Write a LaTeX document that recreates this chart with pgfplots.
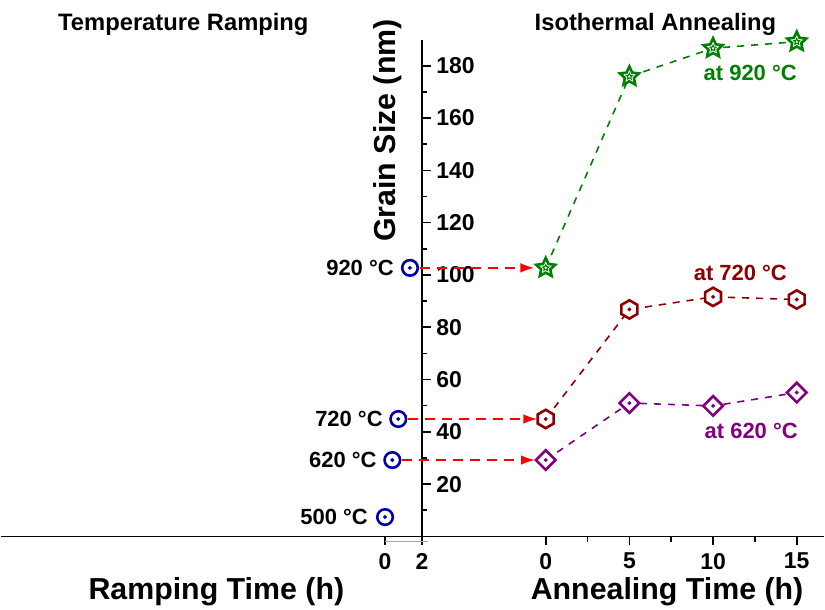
\documentclass[border=0pt]{standalone}
\usepackage{fontspec}
\setmainfont{Liberation Sans}
\usepackage{pgfplots}
\pgfplotsset{compat=1.18}
\usetikzlibrary{arrows.meta}
\definecolor{cblue}{RGB}{0,0,170}
\definecolor{cgreen}{RGB}{0,128,0}
\definecolor{cdred}{RGB}{139,0,0}
\definecolor{cpurple}{RGB}{128,0,128}
\definecolor{cred}{RGB}{255,0,0}

\pgfdeclareplotmark{codot}{%
  \pgfpathcircle{\pgfpointorigin}{\pgfplotmarksize}%
  \pgfusepathqfillstroke
  \pgfpathcircle{\pgfpointorigin}{0.15pt}%
  \pgfusepathqstroke
}
\pgfdeclareplotmark{ostar}{%
  \pgfpathmoveto{\pgfqpointpolar{90}{\pgfplotmarksize}}%
  \pgfpathlineto{\pgfqpointpolar{126}{0.48\pgfplotmarksize}}%
  \pgfpathlineto{\pgfqpointpolar{162}{\pgfplotmarksize}}%
  \pgfpathlineto{\pgfqpointpolar{198}{0.48\pgfplotmarksize}}%
  \pgfpathlineto{\pgfqpointpolar{234}{\pgfplotmarksize}}%
  \pgfpathlineto{\pgfqpointpolar{270}{0.48\pgfplotmarksize}}%
  \pgfpathlineto{\pgfqpointpolar{306}{\pgfplotmarksize}}%
  \pgfpathlineto{\pgfqpointpolar{342}{0.48\pgfplotmarksize}}%
  \pgfpathlineto{\pgfqpointpolar{18}{\pgfplotmarksize}}%
  \pgfpathlineto{\pgfqpointpolar{54}{0.48\pgfplotmarksize}}%
  \pgfpathclose
  \pgfusepathqfillstroke
  \pgfscope
  \pgfsetlinewidth{0.5pt}%
  \pgfpathmoveto{\pgfqpointpolar{90}{0.32\pgfplotmarksize}}%
  \pgfpathlineto{\pgfqpointpolar{126}{0.15\pgfplotmarksize}}%
  \pgfpathlineto{\pgfqpointpolar{162}{0.32\pgfplotmarksize}}%
  \pgfpathlineto{\pgfqpointpolar{198}{0.15\pgfplotmarksize}}%
  \pgfpathlineto{\pgfqpointpolar{234}{0.32\pgfplotmarksize}}%
  \pgfpathlineto{\pgfqpointpolar{270}{0.15\pgfplotmarksize}}%
  \pgfpathlineto{\pgfqpointpolar{306}{0.32\pgfplotmarksize}}%
  \pgfpathlineto{\pgfqpointpolar{342}{0.15\pgfplotmarksize}}%
  \pgfpathlineto{\pgfqpointpolar{18}{0.32\pgfplotmarksize}}%
  \pgfpathlineto{\pgfqpointpolar{54}{0.15\pgfplotmarksize}}%
  \pgfpathclose
  \pgfusepathqstroke
  \endpgfscope
}
\pgfdeclareplotmark{ohex}{%
  \pgfpathmoveto{\pgfqpointpolar{90}{\pgfplotmarksize}}%
  \pgfpathlineto{\pgfqpointpolar{150}{\pgfplotmarksize}}%
  \pgfpathlineto{\pgfqpointpolar{210}{\pgfplotmarksize}}%
  \pgfpathlineto{\pgfqpointpolar{270}{\pgfplotmarksize}}%
  \pgfpathlineto{\pgfqpointpolar{330}{\pgfplotmarksize}}%
  \pgfpathlineto{\pgfqpointpolar{30}{\pgfplotmarksize}}%
  \pgfpathclose
  \pgfusepathqfillstroke
  \pgfpathcircle{\pgfpointorigin}{0.15pt}%
  \pgfusepathqstroke
}
\pgfdeclareplotmark{odiam}{%
  \pgfpathmoveto{\pgfqpoint{0pt}{\pgfplotmarksize}}%
  \pgfpathlineto{\pgfqpoint{-\pgfplotmarksize}{0pt}}%
  \pgfpathlineto{\pgfqpoint{0pt}{-\pgfplotmarksize}}%
  \pgfpathlineto{\pgfqpoint{\pgfplotmarksize}{0pt}}%
  \pgfpathclose
  \pgfusepathqfillstroke
  \pgfpathcircle{\pgfpointorigin}{0.15pt}%
  \pgfusepathqstroke
}

\newcommand\tickfont{\fontsize{11.5}{13}\selectfont\bfseries}
\newcommand\annfont{\fontsize{11}{13}\selectfont\bfseries}
\newcommand\labfont{\fontsize{15.2}{18}\selectfont\bfseries}
\newcommand\titfont{\fontsize{11.9}{14}\selectfont\bfseries}

\begin{document}
\begin{tikzpicture}
\begin{axis}[
  x=8.385pt, y=1.31pt,
  xmin=-7.394, xmax=16.64, ymin=0, ymax=190,
  axis x line=bottom, axis y line=left,
  axis line style={-, line width=0.8pt, black},
  xtick={0,5,10,15}, minor xtick={2.5,7.5,12.5},
  ytick={20,40,...,180}, minor ytick={10,30,...,170},
  xtick align=outside, ytick align=inside,
  major tick length=4.5pt, minor tick length=2.6pt,
  tick style={black, line width=0.8pt},
  tick label style={font=\tickfont},
  /pgf/number format/assume math mode=true,
  yticklabel style={anchor=west, xshift=3.7pt},
  xticklabel style={anchor=north, yshift=-0.3pt},
  clip=false,
]
% invisible bounding box (825 x 611 px)
\path (axis cs:-32.56,205.15) rectangle (axis cs:16.64,-28.05);

% extension of the x axis line to the left and the ramping axis
\draw[line width=0.8pt, black] (axis cs:-32.56,0) -- (axis cs:-7.394,0);
\draw[line width=0.8pt, black] (axis cs:-9.60,0) -- (axis cs:-9.60,-3.4);
\draw[line width=0.8pt, black] (axis cs:-7.394,0) -- (axis cs:-7.394,-3.4);
\draw[line width=0.8pt, gray!70] (axis cs:-9.60,-2) -- (axis cs:-7.04,-2);
\node[font=\tickfont, anchor=north, yshift=-4.8pt] at (axis cs:-9.60,0) {0};
\node[font=\tickfont, anchor=north, yshift=-4.8pt] at (axis cs:-7.394,0) {2};

% isothermal annealing series
\addplot[cgreen, line width=0.8pt, dash pattern=on 3.5pt off 3.5pt,
  mark=ostar, mark size=5pt, mark options={solid, fill=white, line width=1.3pt}]
  coordinates {(0,102.7) (5,175.9) (10,186.7) (15,189.2)};
\addplot[cdred, line width=0.8pt, dash pattern=on 3.5pt off 3.5pt,
  mark=ohex, mark size=4.6pt, mark options={solid, fill=white, line width=1.3pt}]
  coordinates {(0,44.9) (5,86.8) (10,91.6) (15,90.6)};
\addplot[cpurple, line width=0.8pt, dash pattern=on 3.5pt off 3.5pt,
  mark=odiam, mark size=4.9pt, mark options={solid, fill=white, line width=1.3pt}]
  coordinates {(0,29.2) (5,51.0) (10,49.9) (15,55.0)};

% arrows from ramping end to start of annealing
\addplot[cred, line width=0.9pt, dash pattern=on 5pt off 3.5pt, mark=none,
  -{Latex[length=7pt,width=4.8pt]}] coordinates {(-7.51,102.7) (-0.68,102.7)};
\addplot[cred, line width=0.9pt, dash pattern=on 5pt off 3.5pt, mark=none,
  -{Latex[length=7pt,width=4.8pt]}] coordinates {(-8.24,44.9) (-0.5,44.9)};
\addplot[cred, line width=0.9pt, dash pattern=on 5pt off 3.5pt, mark=none,
  -{Latex[length=7pt,width=4.8pt]}] coordinates {(-8.59,29.2) (-0.64,29.2)};

% temperature ramping points
\addplot[only marks, cblue, mark=codot, mark size=3.9pt,
  mark options={fill=white, line width=1.3pt}]
  coordinates {(-9.60,7.4) (-9.165,29.2) (-8.807,44.9) (-8.11,102.7)};

% annotations
\node[font=\annfont, anchor=east, inner sep=0pt] at (axis cs:-9.06,102.7) {920 °C};
\node[font=\annfont, anchor=east, inner sep=0pt] at (axis cs:-9.72,45.0) {720 °C};
\node[font=\annfont, anchor=east, inner sep=0pt] at (axis cs:-10.08,29.2) {620 °C};
\node[font=\annfont, anchor=east, inner sep=0pt] at (axis cs:-10.61,7.4) {500 °C};
\node[font=\annfont, text=cgreen, inner sep=0pt] at (axis cs:12.22,177.3) {at 920 °C};
\node[font=\annfont, text=cdred, inner sep=0pt] at (axis cs:11.63,100.6) {at 720 °C};
\node[font=\annfont, text=cpurple, inner sep=0pt] at (axis cs:12.28,40.3) {at 620 °C};

% titles and axis labels
\node[font=\titfont, anchor=base, inner sep=0pt] at (axis cs:-21.65,193.3) {Temperature Ramping};
\node[font=\titfont, anchor=base, inner sep=0pt] at (axis cs:6.56,193.3) {Isothermal Annealing};
\node[font=\labfont, rotate=90, inner sep=0pt] at (axis cs:-9.42,155.2) {Grain Size (nm)};
\node[font=\labfont, anchor=base, inner sep=0pt] at (axis cs:-19.68,-24.2) {Ramping Time (h)};
\node[font=\labfont, anchor=base, inner sep=0pt] at (axis cs:7.25,-24.2) {Annealing Time (h)};
\end{axis}
\end{tikzpicture}
\end{document}
